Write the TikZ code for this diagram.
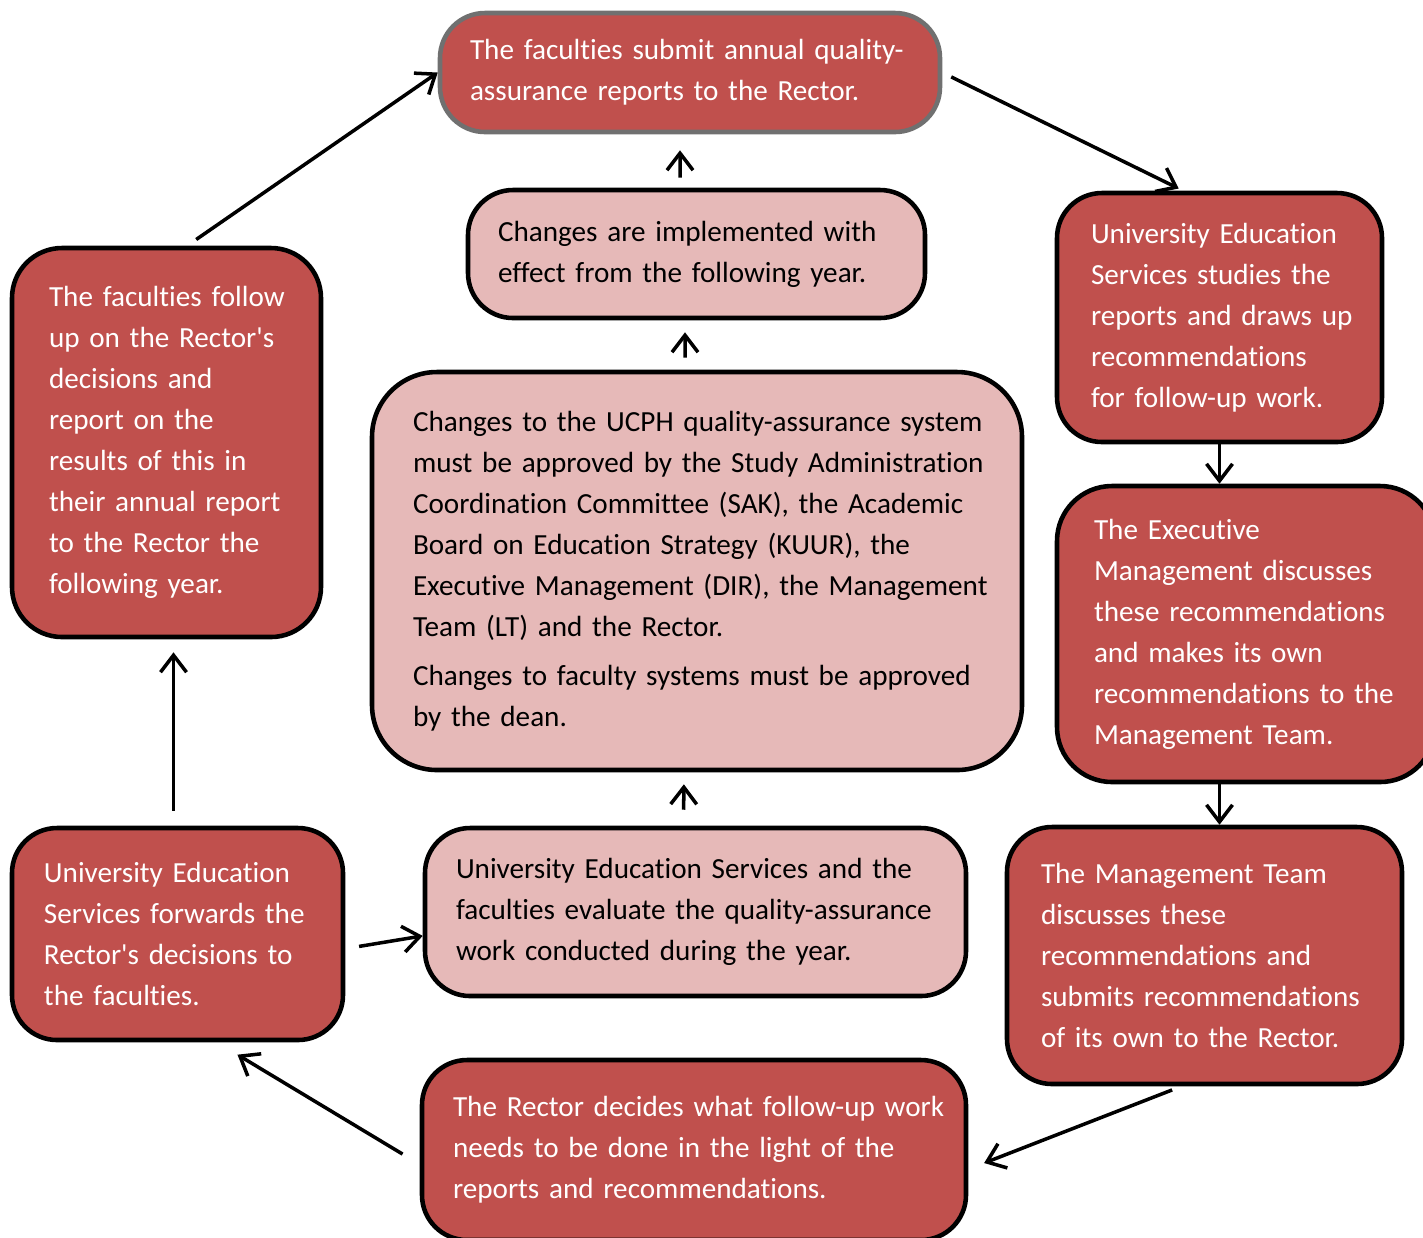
\documentclass[tikz,border=0pt]{standalone}
\usepackage{fontspec}
\setmainfont{Carlito}[Ligatures=NoCommon,WordSpace=0.8]
\usetikzlibrary{arrows.meta}
\definecolor{boxred}{HTML}{C0504D}
\definecolor{boxpink}{HTML}{E6B9B8}
\definecolor{edgegray}{HTML}{707070}

\begin{document}
\begin{tikzpicture}
		\tikzstyle{redbox} = [rectangle,rounded corners=0.45cm,draw=black,line width=1.3pt,fill=boxred,text=white,align=left,inner xsep=0.34cm,font=\fontsize{8.3}{11.65}\selectfont,execute at begin node={\rightskip=0pt plus 1fil minus 1cm}]
		\tikzstyle{pinkbox} = [redbox,fill=boxpink,text=black]
		\tikzstyle{link} = [-{Straight Barb[length=1.7mm,width=2.6mm]},line width=1pt]
		\useasboundingbox (0,0) rectangle (14.23,-12.37);
		\node[redbox,draw=edgegray,inner xsep=0.3cm,text width=4.4cm,minimum height=1.19cm] (submit) at (6.90,-0.725) {The faculties submit annual quality-\\assurance reports to the Rector.};
		\node[pinkbox,inner xsep=0.3cm,text width=3.97cm,minimum height=1.28cm] (implemented) at (6.965,-2.54) {Changes are implemented with\\effect from the following year.};
		\node[pinkbox,rounded corners=0.65cm,inner xsep=0.41cm,text width=5.68cm,minimum height=3.98cm] (approval) at (6.97,-5.71) {Changes to the UCPH quality-assurance system\\must be approved by the Study Administration\\Coordination Committee (SAK), the Academic\\Board on Education Strategy (KUUR), the\\Executive Management (DIR), the Management\\Team (LT) and the Rector.\\[0.08cm]Changes to faculty systems must be approved\\by the dean.};
		\node[pinkbox,inner xsep=0.31cm,text width=4.79cm,minimum height=1.68cm] (evaluate) at (6.955,-9.12) {University Education Services and the\\faculties evaluate the quality-assurance\\work conducted during the year.};
		\node[redbox,text width=2.57cm,minimum height=2.49cm] (studies) at (12.195,-3.175) {University Education\\Services studies the\\reports and draws up\\recommendations\\for follow-up work.};
		\node[redbox,rounded corners=0.55cm,inner xsep=0.37cm,text width=3.04cm,minimum height=2.96cm] (executive) at (12.46,-6.34) {The Executive\\Management discusses\\these recommendations\\and makes its own\\recommendations to the\\Management Team.};
		\node[redbox,text width=3.27cm,minimum height=2.57cm] (mteam) at (12.045,-9.555) {The Management Team\\discusses these\\recommendations and\\submits recommendations\\of its own to the Rector.};
		\node[redbox,inner xsep=0.31cm,text width=4.82cm,minimum height=1.80cm] (rector) at (6.94,-11.50) {The Rector decides what follow-up work\\needs to be done in the light of the\\reports and recommendations.};
		\node[redbox,inner xsep=0.32cm,text width=2.67cm,minimum height=2.12cm] (forwards) at (1.775,-9.34) {University Education\\Services forwards the\\Rector\textquotesingle s decisions to\\the faculties.};
		\node[redbox,rounded corners=0.5cm,inner xsep=0.37cm,text width=2.35cm,minimum height=3.89cm] (followup) at (1.665,-4.425) {The faculties follow\\up on the Rector\textquotesingle s\\decisions and\\report on the\\results of this in\\their annual report\\to the Rector the\\following year.};
		\draw[link,shorten <=0.11cm] (followup.84)--(submit.west);
		\draw[link,shorten <=0.1cm,shorten >=0.05cm] (submit.east)--(studies.106);
		\draw[link] (studies.south)--(studies.south |- executive.north);
		\draw[link] (executive.south -| studies.south)--(studies.south |- mteam.north);
		\draw[link,shorten <=0.1cm,shorten >=0.17cm] (mteam.260)--(rector.-4);
		\draw[link,shorten <=0.2cm,shorten >=0.24cm] (rector.183)--(forwards.-70);
		\draw[link,shorten <=0.15cm,shorten >=0.13cm] ([xshift=-0.04cm]forwards.north)--([xshift=-0.04cm]forwards.north |- followup.south);
		\draw[link,shorten <=0.14cm] (forwards.-5)--(evaluate.185);
		\draw[link,shorten <=0.16cm,shorten >=0.12cm] ([xshift=-0.12cm]evaluate.north)--([xshift=-0.13cm]approval.south);
		\draw[link,shorten <=0.12cm,shorten >=0.12cm] ([xshift=-0.12cm]approval.north)--([xshift=-0.115cm]implemented.south);
		\draw[link,shorten <=0.1cm,shorten >=0.16cm] ([xshift=-0.165cm]implemented.north)--([xshift=-0.1cm]submit.south);
		\end{tikzpicture}
\end{document}
